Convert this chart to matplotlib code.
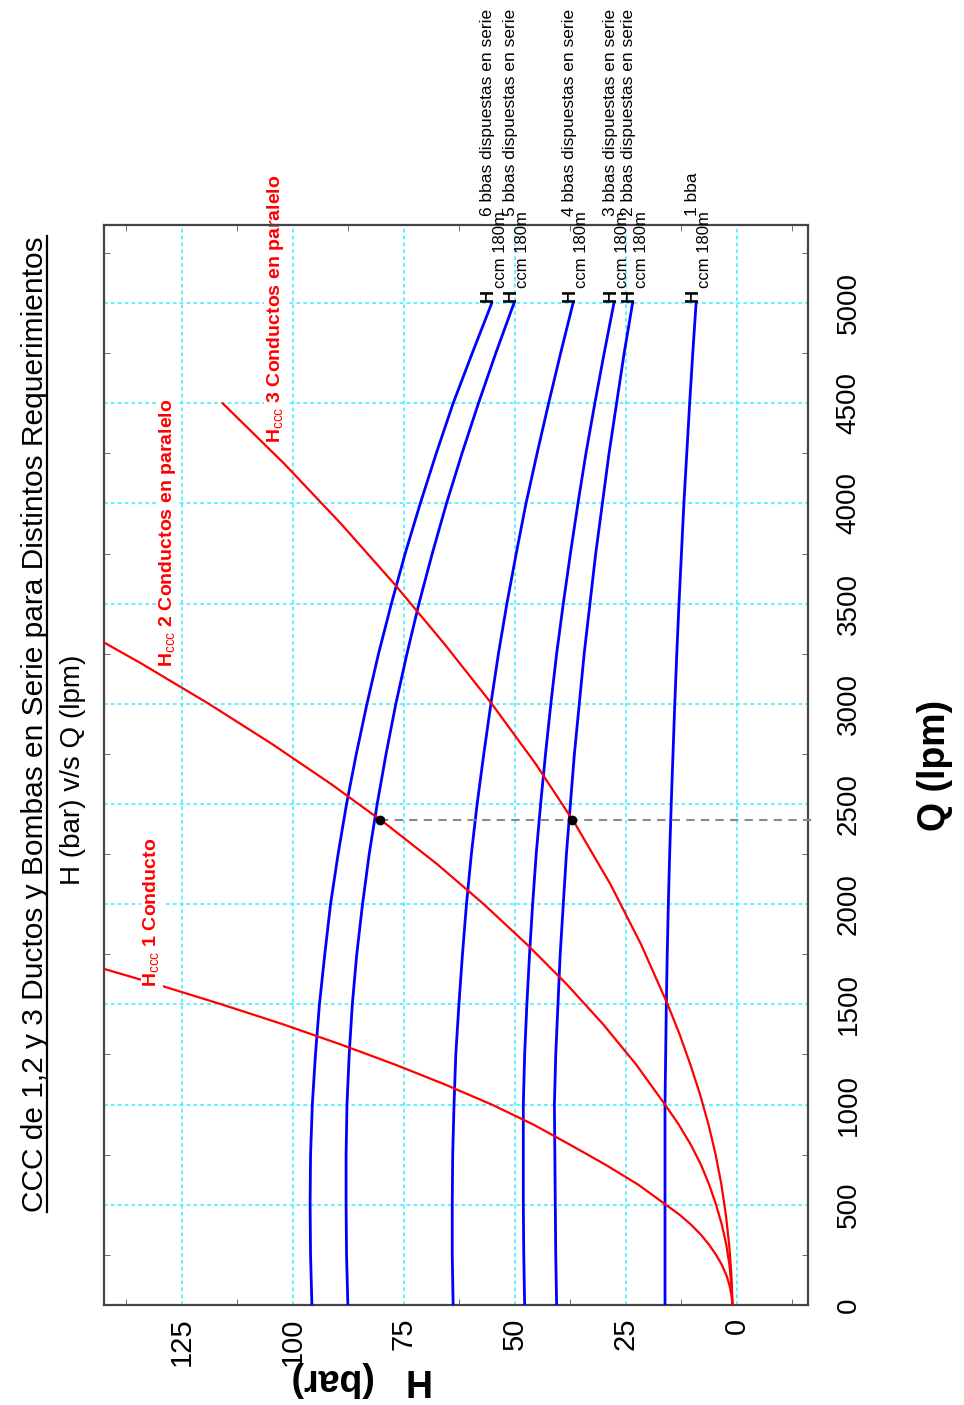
import numpy as np
import matplotlib
matplotlib.use("Agg")
import matplotlib.pyplot as plt
from matplotlib.lines import Line2D

plt.rcParams['font.family'] = ['Liberation Sans', 'DejaVu Sans']
plt.rcParams['mathtext.fontset'] = 'custom'
plt.rcParams['mathtext.rm'] = 'Liberation Sans'
plt.rcParams['mathtext.bf'] = 'Liberation Sans:bold'

# curvas de las bombas en serie (H en bar vs Q en lpm)
Q_bba = [0, 250, 500, 750, 1000, 1250, 1500, 1750, 2000, 2250, 2500,
         2750, 3000, 3250, 3500, 3750, 4000, 4250, 4500, 4750, 5000]
H_6bba = [95.7, 96.0, 96.1, 96.0, 95.6, 94.9, 94.0, 92.8, 91.5, 89.8, 87.9,
          85.7, 83.3, 80.7, 77.8, 74.7, 71.3, 67.7, 63.9, 59.6, 55.2]
H_5bba = [87.6, 87.9, 88.0, 88.0, 87.8, 87.3, 86.6, 85.6, 84.3, 82.8, 81.0,
          79.0, 76.8, 74.3, 71.6, 68.6, 65.4, 61.9, 58.2, 54.3, 50.2]
H_4bba = [63.9, 64.1, 64.1, 64.0, 63.7, 63.3, 62.6, 61.8, 60.9, 59.8, 58.5,
          57.0, 55.4, 53.7, 51.8, 49.7, 47.5, 45.0, 42.4, 39.7, 36.9]
H_3bba = [47.8, 48.0, 48.1, 48.1, 48.1, 47.8, 47.3, 46.7, 46.0, 45.2, 44.2,
          43.1, 41.9, 40.6, 39.1, 37.5, 35.8, 34.0, 32.0, 29.9, 27.7]
H_2bba = [40.6, 40.8, 40.9, 41.0, 41.1, 40.8, 40.3, 39.8, 39.1, 38.4, 37.5,
          36.6, 35.5, 34.4, 33.1, 31.8, 30.3, 28.8, 27.1, 25.4, 23.5]
H_1bba = [16.2, 16.2, 16.2, 16.2, 16.2, 16.05, 15.9, 15.7, 15.45, 15.15, 14.8,
          14.4, 14.0, 13.55, 13.05, 12.5, 11.95, 11.3, 10.65, 9.95, 9.2]
H_bombas = [H_6bba, H_5bba, H_4bba, H_3bba, H_2bba, H_1bba]
txt_bombas = ['6 bbas dispuestas en serie', '5 bbas dispuestas en serie',
              '4 bbas dispuestas en serie', '3 bbas dispuestas en serie',
              '2 bbas dispuestas en serie', '1 bba']

# curvas caracteristicas de los conductos
Q_ccc1 = [0, 50, 100, 150, 200, 250, 300, 350, 400, 450, 500, 600, 700, 800,
          900, 1000, 1100, 1200, 1300, 1400, 1500, 1600, 1700]
H_ccc1 = [1.0, 1.25, 1.7, 2.4, 3.4, 4.7, 6.25, 8.1, 10.3, 12.9, 16.0, 22.2,
          29.6, 37.6, 45.8, 55.2, 65.7, 77.0, 89.2, 102.1, 116.0, 130.6, 146.0]
Q_ccc2 = [0, 100, 200, 300, 400, 500, 600, 700, 800, 900, 1000, 1200, 1400,
          1600, 1800, 2000, 2200, 2400, 2600, 2800, 3000, 3200, 3400]
H_ccc2 = [1.0, 1.25, 1.7, 2.4, 3.4, 4.7, 6.25, 8.1, 10.4, 13.1, 16.2, 22.7,
          30.1, 38.3, 47.3, 57.0, 67.5, 79.0, 91.4, 104.7, 118.9, 134.0, 150.0]
Q_ccc3 = [0, 150, 300, 450, 600, 750, 900, 1050, 1200, 1350, 1500, 1800,
          2100, 2400, 2700, 3000, 3300, 3600, 3900, 4200, 4500]
H_ccc3 = [1.0, 1.25, 1.75, 2.5, 3.5, 4.8, 6.4, 8.3, 10.5, 12.9, 15.6, 21.6,
          28.5, 36.4, 45.3, 55.2, 65.9, 77.2, 89.2, 102.0, 115.8]

# caudal de operacion (2 conductos con 5 bbas y 3 conductos con 2 bbas)
Q_op = 2422
H_op = [np.interp(Q_op, Q_ccc2, H_ccc2), np.interp(Q_op, Q_ccc3, H_ccc3)]

fig = plt.figure(figsize=(9.64, 14.05), dpi=100)
ax = fig.add_axes([0.1079, 0.0712, 0.7303, 0.7687])
ax.set_xlim(142.5, -16)
ax.set_ylim(0, 5390)

azul = '#0000ff'
rojo = '#ff0000'

for H in H_bombas:
	ax.plot(H, Q_bba, color=azul, lw=2.0, zorder=3)
ax.plot(H_ccc1, Q_ccc1, color=rojo, lw=1.6, zorder=3)
ax.plot(H_ccc2, Q_ccc2, color=rojo, lw=1.6, zorder=3)
ax.plot(H_ccc3, Q_ccc3, color=rojo, lw=1.6, zorder=3)

ax.plot([H_op[0], -17.5], [Q_op, Q_op], color='#8a8a8a', lw=1.5,
		ls=(0, (4, 3)), clip_on=False, zorder=3)
ax.plot(H_op, [Q_op, Q_op], 'o', color='black', ms=6, zorder=4)

# etiquetas de las bombas
for H, txt in zip(H_bombas, txt_bombas):
	kw = dict(xy=(H[-1], Q_bba[-1]), textcoords='offset points', rotation=90,
			  rotation_mode='anchor', ha='left', va='baseline',
			  annotation_clip=False, color='black')
	ax.annotate('H', xytext=(1, 1), fontsize=13, fontweight='bold', **kw)
	ax.annotate('ccm 180m', xytext=(9.5, 11), fontsize=12, **kw)
	ax.annotate(txt, xytext=(0.5, 63), fontsize=12.5, **kw)

# etiquetas de los conductos
caja = dict(boxstyle='square,pad=0.05', fc='white', ec='none')
kw_ccc = dict(color=rojo, fontsize=14, fontweight='bold', rotation=90,
			  rotation_mode='anchor', ha='left', va='baseline', bbox=caja)
ax.text(130.6, 1587, r'$\mathbf{H}_{\mathrm{ccc}}$ 1 Conducto', zorder=3.5, **kw_ccc)
ax.text(127.2, 3184, r'$\mathbf{H}_{\mathrm{ccc}}$ 2 Conductos en paralelo',
		zorder=3.5, **kw_ccc)
ax.text(102.9, 4302, r'$\mathbf{H}_{\mathrm{ccc}}$ 3 Conductos en paralelo',
		zorder=2.4, clip_on=False, **kw_ccc)

# ejes
ax.set_xticks([0, 25, 50, 75, 100, 125])
ax.set_yticks(np.arange(0, 5001, 500))
ax.set_xticks(np.arange(-12.5, 142, 25), minor=True)
ax.set_yticks(np.arange(250, 5390, 500), minor=True)
ax.tick_params(which='major', length=0)
ax.tick_params(which='minor', length=4, direction='in', color='#555555',
			   top=True, bottom=True, left=True, right=True)
ax.tick_params(axis='x', which='major', labelrotation=90, pad=9, labelsize=21)
ax.tick_params(axis='y', which='major', labelrotation=90, pad=20, labelsize=20,
			   labelleft=False, labelright=True)
for lbl in ax.get_yticklabels():
	lbl.set_va('center')

ax.grid(True, which='major', color='#3cecff', ls=(0, (2.5, 2)), lw=1.1)
ax.set_axisbelow(True)
for s in ax.spines.values():
	s.set_color('#444444')
	s.set_linewidth(1.6)

# titulos
titulo = fig.text(0.0446, 0.4847,
				  'CCC de 1,2 y 3 Ductos y Bombas en Serie para Distintos Requerimientos',
				  fontsize=21.5, rotation=90, rotation_mode='anchor',
				  ha='center', va='baseline')
fig.text(0.0757, 0.452, 'H (bar) v/s Q (lpm)', fontsize=20, rotation=90,
		 ha='center', va='center')
fig.text(0.970, 0.4555, 'Q (lpm)', fontsize=27, fontweight='bold',
		 rotation=90, ha='center', va='center')
fig.text(0.3755, 0.0185, 'H   (bar)', fontsize=27, fontweight='bold',
		 rotation=180, ha='center', va='center')

# subrayado del titulo
fig.canvas.draw()
bb = titulo.get_window_extent().transformed(fig.transFigure.inverted())
xs = 0.0446 + 4.5 / 964
fig.add_artist(Line2D([xs, xs], [bb.y0, bb.y1], color='black', lw=1.6,
					  transform=fig.transFigure))

fig.savefig('out.png', dpi=100)
